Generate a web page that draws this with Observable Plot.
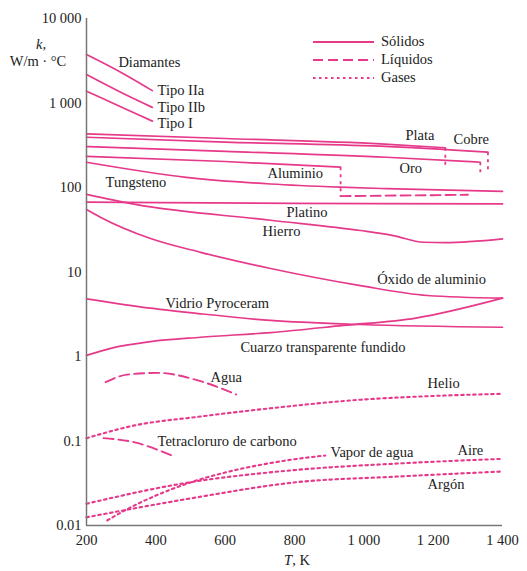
<!DOCTYPE html>
<html><head><meta charset="utf-8">
<script src="https://cdn.jsdelivr.net/npm/d3@7"></script>
<script src="https://cdn.jsdelivr.net/npm/@observablehq/plot@0.6"></script>
<style>
body{margin:0;background:#fff;}
#chart{position:relative;width:527px;height:571px;}
</style></head><body><div id="chart"></div>
<script>
// ---- data: [T (K), k (W/m·°C)] ----
const diamanteIIa = [[200,3750],[300,2300],[390,1400]];
const diamanteIIb = [[200,2170],[300,1330],[390,886]];
const diamanteI   = [[200,1380],[300,898],[390,610]];
const plata     = [[200,432],[600,380],[1048,329],[1235,295]];
const cobre     = [[200,393],[600,345],[1048,308],[1358,262]];
const oro       = [[200,305],[600,267],[1065,228],[1336,199]];
const aluminio  = [[200,233],[600,203],[933,174]];
const tungsteno = [[200,199],[488,132],[731,110],[930,101],[1065,97],[1400,90]];
const platino   = [[200,67],[800,65],[1400,64]];
const hierro    = [[200,83],[341,63],[731,41],[990,31],[1085,27],[1172,22.5],[1235,22.3],[1400,24.7]];
const oxidoAluminio = [[200,55],[240,44.6],[385,24.9],[529,17.1],[731,11],[990,6.9],[1183,5.27],[1400,4.9]];
const pyroceram = [[200,4.82],[385,3.73],[529,3.2],[731,2.67],[990,2.39],[1400,2.22]];
const cuarzo    = [[200,1.03],[270,1.25],[385,1.5],[529,1.69],[731,1.92],[941,2.33],[1150,2.85],[1400,4.9]];
// liquids
const agua         = [[255,0.497],[317,0.61],[404,0.64],[529,0.51],[632,0.355]];
const tetracloruro = [[249,0.108],[336,0.097],[447,0.067]];
const aluminioLiq  = [[933,79],[1300,82]];
// gases
const helio     = [[200,0.108],[336,0.152],[529,0.195],[731,0.244],[990,0.308],[1200,0.341],[1400,0.362]];
const aire      = [[200,0.0181],[471,0.0311],[808,0.0456],[1100,0.0542],[1400,0.0615]];
const argon     = [[200,0.0125],[500,0.0209],[808,0.0326],[1100,0.038],[1400,0.0436]];
const vaporAgua = [[260,0.0115],[300,0.0143],[400,0.0226],[500,0.0323],[600,0.0424],[700,0.052],[808,0.0615],[889,0.0673]];
// melting transitions
const fusionT  = [1235, 1358, 1336, 933];
const fusionK1 = [295, 262, 199, 174];
const fusionK2 = [182, 159, 145, 79];
// axis ticks
const xTicks = [200, 400, 600, 800, 1000, 1200, 1400];
const yTicks = [0.01, 0.1, 1, 10, 100, 1000, 10000];
const yTickLabels = ["0.01", "0.1", "1", "10", "100", "1 000", "10 000"];
// labels
const labelText = ["Diamantes","Tipo IIa","Tipo IIb","Tipo I","Plata","Cobre","Oro","Aluminio","Tungsteno","Platino","Hierro","Óxido de aluminio","Vidrio Pyroceram","Cuarzo transparente fundido","Agua","Helio","Tetracloruro de carbono","Vapor de agua","Aire","Argón"];
const labelT = [292,405,405,405,1120,1259,1103,722,255,777,708,1039,428,644,558,1184,405,904,1270,1184];
const labelK = [3013,1406,886,572,418,370,168,147,114.5,50.6,30.1,8.15,4.30,1.28,0.571,0.479,0.0986,0.0731,0.0781,0.0305];

const pink = "#e6398a";
const FONT = "'Liberation Serif', 'Times New Roman', serif";
const FS = 14.5;
const rowsOf = (name, pts) => pts.map(([T, k]) => ({name, T, k}));
const solids = [
  ...rowsOf("IIa", diamanteIIa), ...rowsOf("IIb", diamanteIIb), ...rowsOf("I", diamanteI),
  ...rowsOf("Plata", plata), ...rowsOf("Cobre", cobre), ...rowsOf("Oro", oro),
  ...rowsOf("Aluminio", aluminio), ...rowsOf("Tungsteno", tungsteno), ...rowsOf("Platino", platino),
  ...rowsOf("Hierro", hierro), ...rowsOf("Oxido", oxidoAluminio), ...rowsOf("Pyroceram", pyroceram),
  ...rowsOf("Cuarzo", cuarzo)
];
const liquids = [...rowsOf("Agua", agua), ...rowsOf("CCl4", tetracloruro), ...rowsOf("AlLiq", aluminioLiq)];
const gases = [...rowsOf("Helio", helio), ...rowsOf("Aire", aire), ...rowsOf("Argon", argon), ...rowsOf("Vapor", vaporAgua)];
const fusion = fusionT.map((T, i) => ({T, k1: fusionK1[i], k2: fusionK2[i]}));
const labels = labelText.map((text, i) => ({text, T: labelT[i], k: labelK[i]}));

const svg = Plot.plot({
  width: 527, height: 571,
  marginTop: 18, marginRight: 25, marginBottom: 46, marginLeft: 86,
  style: {fontFamily: FONT, fontSize: FS + "px", color: "#222", background: "#fff"},
  x: {domain: [200, 1400], ticks: xTicks, tickFormat: d => d >= 1000 ? d3.format(",")(d).replace(",", " ") : String(d), tickSize: 0, tickPadding: 9, label: null},
  y: {type: "log", domain: [0.01, 10000], ticks: yTicks, tickFormat: d => yTickLabels[yTicks.indexOf(d)] ?? "", tickSize: 0, tickPadding: 5, label: null},
  marks: [
    Plot.line(solids, {x: "T", y: "k", z: "name", stroke: pink, strokeWidth: 1.7, curve: "monotone-x"}),
    Plot.line(liquids, {x: "T", y: "k", z: "name", stroke: pink, strokeWidth: 1.9, strokeDasharray: "10,5", curve: "monotone-x"}),
    Plot.line(gases, {x: "T", y: "k", z: "name", stroke: pink, strokeWidth: 2.1, strokeDasharray: "2.5,3.5", curve: "monotone-x"}),
    Plot.link(fusion, {x1: "T", x2: "T", y1: "k1", y2: "k2", stroke: pink, strokeWidth: 1.8, strokeDasharray: "3,4"}),
    Plot.ruleX([200], {stroke: "#777", strokeWidth: 1.5}),
    Plot.ruleY([0.01], {stroke: "#777", strokeWidth: 1.5}),
    Plot.text(labels, {x: "T", y: "k", text: "text", textAnchor: "start", fill: "#222", fontSize: FS})
  ]
});
document.getElementById("chart").appendChild(svg);

// legend and axis titles
const s = d3.select(svg);
const lg = s.append("g").attr("font-family", FONT).attr("font-size", FS).attr("fill", "#222").attr("text-anchor", "start");
const legendItems = [["Sólidos", null, 42], ["Líquidos", "10,5", 60], ["Gases", "2.5,3.5", 78]];
legendItems.forEach(([t, dash, y]) => {
  lg.append("line").attr("x1", 313).attr("x2", 374).attr("y1", y).attr("y2", y)
    .attr("stroke", pink).attr("stroke-width", dash === "2.5,3.5" ? 2.1 : 1.8).attr("stroke-dasharray", dash);
  lg.append("text").attr("x", 381).attr("y", y - 1).attr("dy", "0.35em").text(t);
});
const yl = s.append("text").attr("font-family", FONT).attr("font-size", FS).attr("fill", "#222").attr("text-anchor", "middle");
yl.append("tspan").attr("x", 41).attr("y", 49).attr("font-style", "italic").text("k,");
yl.append("tspan").attr("x", 38).attr("y", 66).text("W/m · °C");
const xl = s.append("text").attr("font-family", FONT).attr("font-size", FS).attr("fill", "#222").attr("text-anchor", "middle").attr("x", 297).attr("y", 565);
xl.append("tspan").attr("font-style", "italic").text("T");
xl.append("tspan").text(", K");
</script></body></html>
